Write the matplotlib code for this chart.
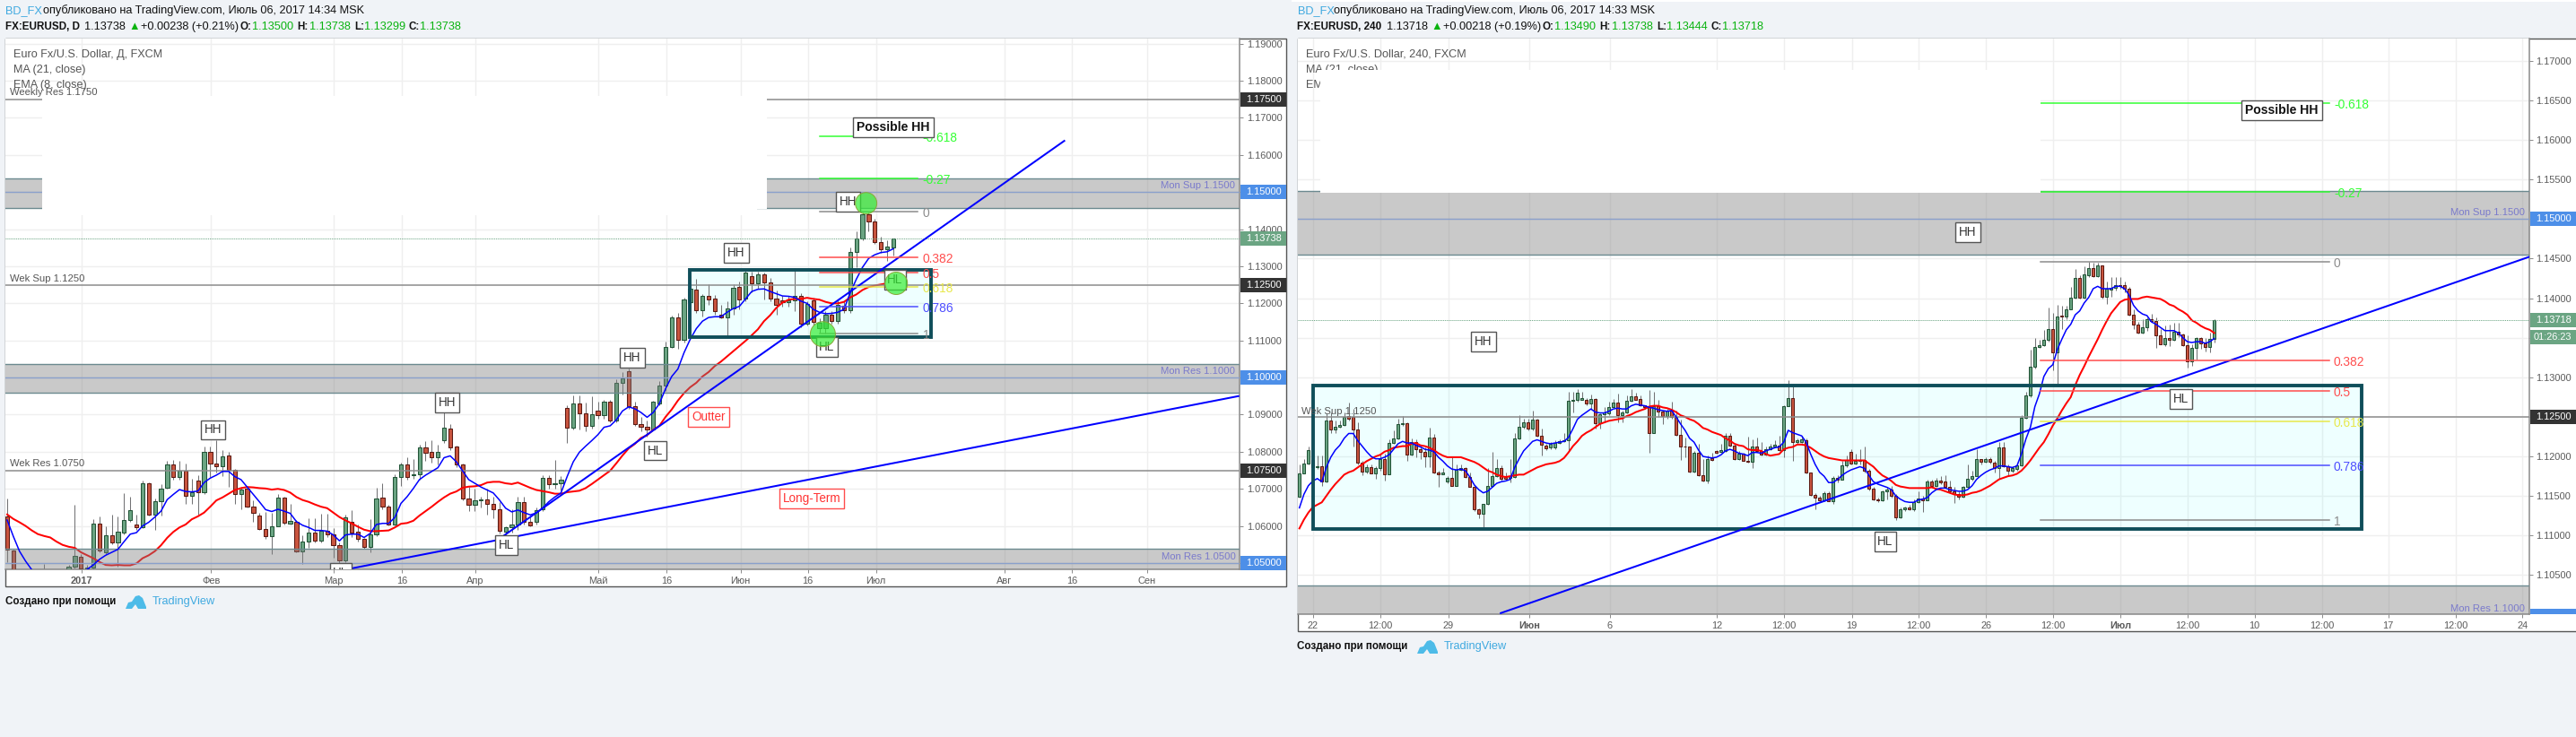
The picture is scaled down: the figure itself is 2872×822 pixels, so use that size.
import numpy as np
import matplotlib
matplotlib.use("Agg")
import matplotlib.pyplot as plt
from matplotlib.patches import Rectangle, Ellipse, Polygon
from matplotlib.transforms import Affine2D

W, H = 2872, 822
BG = "#f0f3f7"
GRID = "#efefef"
FONT = ["Liberation Sans", "DejaVu Sans"]
plt.rcParams["font.family"] = FONT
LABEL_PX = 11.2
TICK_PX = 11.0

# ---------- daily chart ----------
d_first_bar = -12
d_open = [1.0626,1.0534,1.0465,1.0440,1.0455,1.0445,1.0450,1.0465,1.0445,1.0455,1.0470,1.0491,
 1.0518,1.0477,1.0487,1.0607,1.0529,1.0574,1.0556,1.0581,1.0615,1.0605,
 1.0597,1.0715,1.0631,1.0666,1.0703,1.0765,1.0731,1.0748,1.0682,1.0723,
 1.0691,1.0799,1.0769,1.0760,1.0791,1.0751,1.0685,1.0701,1.0653,1.0627,
 1.0592,1.0572,1.0600,1.0677,1.0607,1.0612,1.0532,1.0559,1.0583,1.0561,
 1.0587,1.0578,1.0549,1.0507,1.0612,1.0584,1.0566,1.0544,1.0577,1.0677,
 1.0653,1.0604,1.0733,1.0765,1.0736,1.0740,1.0811,1.0799,1.0785,1.0832,
 1.0863,1.0814,1.0765,1.0674,1.0658,1.0668,1.0671,1.0660,1.0644,1.0585,
 1.0596,1.0604,1.0664,1.0612,1.0612,1.0644,1.0729,1.0712,1.0714,
 1.0918,1.0866,1.0930,1.0904,1.0870,1.0912,1.0899,1.0934,1.0885,1.0985,1.1017,
 1.0924,1.0875,1.0868,1.0861,1.0930,1.0978,1.1083,1.1161,1.1102,1.1204,
 1.1238,1.1181,1.1219,1.1212,1.1170,1.1162,1.1186,1.1244,1.1212,1.1273,
 1.1255,1.1277,1.1256,1.1214,1.1208,1.1204,1.1209,1.1219,1.1146,1.1207,
 1.1134,1.1134,1.1170,1.1153,1.1194,1.1182,1.1339,1.1376,1.1439,1.1420,1.1364,1.1347,1.1350]
d_high = [1.0673,1.0537,1.0475,1.0470,1.0470,1.0470,1.0498,1.0475,1.0470,1.0470,1.0495,1.0657,
 1.0525,1.0495,1.0619,1.0625,1.0600,1.0630,1.0625,1.0688,1.0680,1.0630,
 1.0722,1.0718,1.0675,1.0712,1.0775,1.0778,1.0775,1.0768,1.0727,1.0738,
 1.0815,1.0815,1.0830,1.0805,1.0800,1.0753,1.0705,1.0705,1.0670,1.0635,
 1.0638,1.0635,1.0685,1.0680,1.0660,1.0615,1.0575,1.0620,1.0622,1.0632,
 1.0632,1.0595,1.0555,1.0630,1.0642,1.0605,1.0568,1.0618,1.0702,1.0716,
 1.0658,1.0740,1.0770,1.0785,1.0780,1.0820,1.0829,1.0830,1.0820,1.0906,
 1.0875,1.0816,1.0768,1.0705,1.0700,1.0680,1.0700,1.0680,1.0665,1.0600,
 1.0645,1.0680,1.0680,1.0625,1.0650,1.0738,1.0738,1.0777,1.0735,
 1.0925,1.0953,1.0953,1.0933,1.0950,1.0935,1.0940,1.0940,1.0995,1.1015,1.1025,
 1.0935,1.0895,1.0885,1.0937,1.0990,1.1097,1.1167,1.1175,1.1215,1.1245,
 1.1265,1.1225,1.1252,1.1222,1.1195,1.1205,1.1252,1.1260,1.1287,1.1285,
 1.1285,1.1283,1.1268,1.1235,1.1220,1.1220,1.1296,1.1228,1.1205,1.1215,
 1.1160,1.1180,1.1178,1.1210,1.1205,1.1350,1.1395,1.1446,1.1445,1.1428,1.1380,1.1370,1.13738]
d_low = [1.0503,1.0470,1.0420,1.0430,1.0430,1.0430,1.0440,1.0430,1.0420,1.0440,1.0460,1.0486,
 1.0470,1.0470,1.0470,1.0530,1.0525,1.0550,1.0490,1.0578,1.0612,1.0590,
 1.0595,1.0628,1.0590,1.0627,1.0700,1.0725,1.0725,1.0660,1.0660,1.0630,
 1.0685,1.0731,1.0745,1.0735,1.0705,1.0660,1.0645,1.0650,1.0612,1.0590,
 1.0565,1.0525,1.0598,1.0605,1.0605,1.0528,1.0497,1.0540,1.0555,1.0555,
 1.0570,1.0515,1.0497,1.0502,1.0570,1.0558,1.0538,1.0530,1.0572,1.0645,
 1.0602,1.0602,1.0708,1.0725,1.0728,1.0725,1.0775,1.0770,1.0765,1.0825,
 1.0805,1.0758,1.0670,1.0640,1.0640,1.0650,1.0630,1.0620,1.0580,1.0555,
 1.0583,1.0590,1.0605,1.0600,1.0605,1.0640,1.0700,1.0700,1.0695,
 1.0823,1.0860,1.0860,1.0855,1.0862,1.0890,1.0890,1.0880,1.0880,1.0955,1.0915,
 1.0870,1.0855,1.0840,1.0857,1.0925,1.0965,1.1080,1.1077,1.1095,1.1200,
 1.1175,1.1165,1.1195,1.1170,1.1160,1.1110,1.1170,1.1185,1.1205,1.1230,
 1.1240,1.1210,1.1205,1.1170,1.1190,1.1190,1.1180,1.1135,1.1140,1.1140,
 1.1120,1.1118,1.1145,1.1145,1.1175,1.1175,1.1297,1.1370,1.1395,1.1360,1.1335,1.1315,1.13299]
d_close = [1.0536,1.0475,1.0440,1.0455,1.0445,1.0450,1.0465,1.0445,1.0455,1.0450,1.0491,1.0519,
 1.0486,1.0489,1.0607,1.0534,1.0574,1.0556,1.0584,1.0615,1.0642,1.0597,
 1.0715,1.0631,1.0666,1.0700,1.0765,1.0731,1.0748,1.0682,1.0692,1.0691,
 1.0799,1.0768,1.0760,1.0787,1.0751,1.0685,1.0699,1.0652,1.0636,1.0592,
 1.0572,1.0600,1.0677,1.0608,1.0613,1.0532,1.0559,1.0583,1.0561,1.0586,
 1.0578,1.0549,1.0507,1.0624,1.0582,1.0566,1.0544,1.0577,1.0673,1.0653,
 1.0604,1.0733,1.0765,1.0733,1.0740,1.0811,1.0798,1.0785,1.0799,1.0864,
 1.0812,1.0765,1.0673,1.0656,1.0669,1.0672,1.0660,1.0644,1.0588,1.0596,
 1.0604,1.0664,1.0612,1.0602,1.0642,1.0730,1.0712,1.0714,1.0725,
 1.0866,1.0930,1.0904,1.0870,1.0900,1.0899,1.0934,1.0885,1.0985,1.0998,1.0924,
 1.0875,1.0867,1.0861,1.0934,1.0978,1.1083,1.1161,1.1102,1.1210,1.1239,
 1.1181,1.1220,1.1211,1.1178,1.1162,1.1186,1.1243,1.1210,1.1282,1.1255,
 1.1277,1.1257,1.1214,1.1196,1.1204,1.1209,1.1219,1.1146,1.1198,1.1149,
 1.1147,1.1170,1.1153,1.1196,1.1182,1.1339,1.1376,1.1439,1.1420,1.1364,1.1345,1.1352,1.13738]
d_ema = [1.0616,1.0572,1.0532,1.0505,1.0482,1.0465,1.0455,1.0450,1.0450,1.0452,1.0458,1.0465,
 1.0475,1.0483,1.0495,1.0510,1.0521,1.0529,1.0537,1.0558,1.0578,1.0582,
 1.0600,1.0610,1.0624,1.0640,1.0671,1.0685,1.0698,1.0693,1.0692,1.0694,
 1.0717,1.0729,1.0737,1.0747,1.0747,1.0733,1.0725,1.0705,1.0685,1.0665,
 1.0644,1.0639,1.0645,1.0640,1.0634,1.0612,1.0602,1.0596,1.0588,1.0588,
 1.0586,1.0576,1.0560,1.0576,1.0578,1.0578,1.0569,1.0580,1.0604,1.0607,
 1.0607,1.0623,1.0661,1.0679,1.0701,1.0725,1.0737,1.0747,1.0757,1.0784,
 1.0789,1.0773,1.0749,1.0725,1.0715,1.0705,1.0697,1.0689,1.0670,1.0648,
 1.0638,1.0643,1.0636,1.0630,1.0635,1.0648,1.0665,1.0678,1.0689,
 1.0733,1.0773,1.0799,1.0815,1.0830,1.0846,1.0866,1.0870,1.0886,1.0910,1.0921,
 1.0916,1.0906,1.0893,1.0906,1.0930,1.0970,1.1003,1.1023,1.1067,1.1103,
 1.1132,1.1152,1.1162,1.1164,1.1164,1.1176,1.1186,1.1192,1.1212,1.1232,
 1.1238,1.1239,1.1232,1.1226,1.1220,1.1219,1.1216,1.1206,1.1200,1.1184,
 1.1176,1.1172,1.1173,1.1176,1.1184,1.1228,1.1265,1.1297,1.1321,1.1331,1.1337,1.1339,1.1347]
d_ma = [1.0631,1.0619,1.0610,1.0600,1.0588,1.0578,1.0573,1.0569,1.0558,1.0549,1.0544,1.0541,
 1.0529,1.0521,1.0513,1.0503,1.0495,1.0494,1.0495,1.0494,1.0494,1.0499,
 1.0513,1.0521,1.0532,1.0548,1.0568,1.0584,1.0596,1.0604,1.0618,1.0626,
 1.0636,1.0652,1.0669,1.0677,1.0687,1.0697,1.0702,1.0705,1.0704,1.0702,
 1.0701,1.0698,1.0700,1.0697,1.0690,1.0678,1.0670,1.0665,1.0658,1.0652,
 1.0648,1.0636,1.0624,1.0615,1.0607,1.0598,1.0590,1.0586,1.0586,1.0587,
 1.0588,1.0596,1.0606,1.0608,1.0614,1.0628,1.0640,1.0652,1.0665,1.0677,
 1.0687,1.0693,1.0703,1.0706,1.0707,1.0710,1.0717,1.0719,1.0719,1.0715,
 1.0713,1.0717,1.0710,1.0703,1.0697,1.0694,1.0691,1.0687,1.0687,
 1.0691,1.0693,1.0695,1.0702,1.0713,1.0725,1.0737,1.0749,1.0769,1.0790,1.0809,
 1.0821,1.0837,1.0845,1.0859,1.0870,1.0894,1.0914,1.0938,1.0958,1.0974,
 1.0986,1.1003,1.1015,1.1031,1.1043,1.1057,1.1071,1.1085,1.1099,1.1114,
 1.1130,1.1152,1.1168,1.1188,1.1202,1.1210,1.1212,1.1212,1.1215,1.1212,
 1.1210,1.1204,1.1200,1.1200,1.1204,1.1216,1.1224,1.1236,1.1244,1.1248,1.1251,1.1254,1.1265]
d_tick_pos = [0.1,21.1,41.1,52.2,64.1,84.1,95.2,107.2,118.1,129.2,150.1,161.0,173.2]
d_tick_labels = ["2017","Фев","Мар","16","Апр","Май","16","Июн","16","Июл","Авг","16","Сен"]
d_bold_ticks = ["2017"]
d_price_ticks = [1.05,1.06,1.07,1.08,1.09,1.10,1.11,1.12,1.13,1.14,1.15,1.16,1.17,1.18,1.19]
d_tagged_prices = [1.05,1.10,1.15]
d_fib_levels = [-0.618,-0.27,0,0.382,0.5,0.618,0.786,1]
d_fib_prices = [1.1650,1.1536,1.1447,1.1323,1.1284,1.1245,1.1190,1.1119]
d_fib_span = [120.0,136.0]
d_zones = [(1.1456,1.1536),(1.0958,1.1037),(1.0400,1.0539)]
d_box = (99.0,1.1109,138.2,1.1291)
d_long_term = ([44.06,188.1],[1.0486,1.0950])
d_outer = ([68.8,159.8],[1.0575,1.1638])

# ---------- 240-minute chart ----------
h_open = [1.1149,1.1179,1.1191,1.1195,1.1186,1.1188,1.1168,1.1245,1.1234,1.1237,
 1.1240,1.1251,1.1250,1.1234,1.1192,1.1181,1.1186,1.1179,1.1185,1.1197,
 1.1177,1.1217,1.1223,1.1241,1.1242,1.1202,1.1218,1.1209,1.1206,1.1200,
 1.1224,1.1180,1.1177,1.1168,1.1173,1.1163,1.1183,1.1185,1.1174,1.1162,
 1.1133,1.1127,1.1140,1.1163,1.1175,1.1185,1.1174,1.1173,1.1174,1.1223,
 1.1237,1.1243,1.1235,1.1247,1.1226,1.1214,1.1211,1.1211,1.1217,1.1219,
 1.1221,1.1270,1.1271,1.1272,1.1272,1.1267,1.1273,1.1242,1.1253,1.1255,
 1.1262,1.1268,1.1252,1.1256,1.1270,1.1276,1.1273,1.1265,1.1262,1.1230,
 1.1264,1.1257,1.1251,1.1258,1.1250,1.1227,1.1213,1.1213,1.1181,1.1205,
 1.1176,1.1169,1.1198,1.1207,1.1206,1.1207,1.1226,1.1214,1.1197,1.1203,
 1.1194,1.1193,1.1213,1.1207,1.1202,1.1209,1.1213,1.1214,1.1208,1.1263,
 1.1274,1.1218,1.1218,1.1221,1.1180,1.1151,1.1148,1.1145,1.1154,1.1143,
 1.1173,1.1171,1.1189,1.1206,1.1191,1.1194,1.1195,1.1182,1.1159,1.1146,
 1.1144,1.1156,1.1158,1.1150,1.1123,1.1133,1.1135,1.1133,1.1142,1.1147,
 1.1145,1.1168,1.1163,1.1170,1.1168,1.1161,1.1156,1.1152,1.1149,1.1161,
 1.1172,1.1175,1.1197,1.1193,1.1197,1.1192,1.1185,1.1211,1.1188,1.1182,
 1.1184,1.1189,1.1249,1.1277,1.1313,1.1338,1.1341,1.1347,1.1361,1.1331,
 1.1378,1.1377,1.1386,1.1401,1.1426,1.1401,1.1429,1.1438,1.1428,1.1441,
 1.1402,1.1411,1.1413,1.1417,1.1417,1.1412,1.1379,1.1367,1.1357,1.1363,
 1.1374,1.1371,1.1353,1.1342,1.1350,1.1347,1.1358,1.1354,1.1341,1.1320,
 1.1337,1.1350,1.1343,1.1338,1.13490]
h_high = [1.1190,1.1197,1.1213,1.1201,1.1201,1.1201,1.1254,1.1256,1.1245,1.1245,
 1.1256,1.1268,1.1260,1.1243,1.1194,1.1190,1.1190,1.1188,1.1203,1.1203,
 1.1222,1.1233,1.1248,1.1251,1.1243,1.1223,1.1222,1.1213,1.1211,1.1236,
 1.1228,1.1182,1.1185,1.1175,1.1200,1.1190,1.1190,1.1186,1.1180,1.1163,
 1.1134,1.1140,1.1185,1.1206,1.1197,1.1189,1.1180,1.1197,1.1229,1.1252,
 1.1248,1.1248,1.1258,1.1248,1.1235,1.1216,1.1218,1.1221,1.1222,1.1229,
 1.1282,1.1282,1.1285,1.1282,1.1274,1.1278,1.1274,1.1254,1.1262,1.1269,
 1.1273,1.1279,1.1258,1.1277,1.1285,1.1281,1.1277,1.1265,1.1284,1.1282,
 1.1271,1.1258,1.1260,1.1269,1.1258,1.1247,1.1224,1.1213,1.1207,1.1216,
 1.1197,1.1201,1.1205,1.1208,1.1216,1.1230,1.1230,1.1216,1.1207,1.1205,
 1.1225,1.1222,1.1224,1.1218,1.1212,1.1216,1.1220,1.1226,1.1265,1.1296,
 1.1288,1.1223,1.1226,1.1223,1.1180,1.1154,1.1150,1.1156,1.1156,1.1175,
 1.1176,1.1194,1.1201,1.1209,1.1203,1.1209,1.1213,1.1184,1.1161,1.1148,
 1.1157,1.1161,1.1163,1.1152,1.1135,1.1137,1.1139,1.1146,1.1156,1.1150,
 1.1171,1.1171,1.1173,1.1175,1.1176,1.1169,1.1161,1.1156,1.1163,1.1190,
 1.1182,1.1209,1.1197,1.1199,1.1199,1.1194,1.1218,1.1218,1.1190,1.1188,
 1.1192,1.1252,1.1282,1.1335,1.1350,1.1347,1.1360,1.1388,1.1381,1.1392,
 1.1391,1.1391,1.1414,1.1437,1.1429,1.1440,1.1446,1.1445,1.1445,1.1442,
 1.1421,1.1427,1.1427,1.1427,1.1421,1.1414,1.1386,1.1370,1.1374,1.1376,
 1.1380,1.1376,1.1361,1.1365,1.1367,1.1369,1.1369,1.1355,1.1353,1.1342,
 1.1351,1.1351,1.1350,1.1357,1.13738]
h_low = [1.1148,1.1178,1.1190,1.1178,1.1184,1.1163,1.1167,1.1229,1.1229,1.1236,
 1.1239,1.1245,1.1213,1.1190,1.1176,1.1178,1.1178,1.1172,1.1182,1.1169,
 1.1177,1.1216,1.1222,1.1239,1.1194,1.1201,1.1199,1.1197,1.1186,1.1186,
 1.1179,1.1161,1.1177,1.1166,1.1163,1.1163,1.1182,1.1173,1.1161,1.1131,
 1.1122,1.1110,1.1139,1.1161,1.1174,1.1170,1.1171,1.1167,1.1173,1.1222,
 1.1235,1.1233,1.1233,1.1225,1.1201,1.1208,1.1209,1.1209,1.1216,1.1218,
 1.1207,1.1256,1.1269,1.1271,1.1265,1.1260,1.1235,1.1235,1.1243,1.1252,
 1.1262,1.1243,1.1243,1.1254,1.1269,1.1272,1.1263,1.1260,1.1205,1.1229,
 1.1250,1.1241,1.1248,1.1248,1.1226,1.1196,1.1199,1.1180,1.1180,1.1175,
 1.1168,1.1166,1.1194,1.1204,1.1205,1.1206,1.1213,1.1195,1.1195,1.1194,
 1.1192,1.1185,1.1207,1.1201,1.1201,1.1208,1.1211,1.1207,1.1199,1.1263,
 1.1194,1.1216,1.1217,1.1178,1.1150,1.1133,1.1143,1.1143,1.1143,1.1140,
 1.1167,1.1171,1.1187,1.1190,1.1190,1.1190,1.1180,1.1157,1.1144,1.1142,
 1.1143,1.1146,1.1148,1.1120,1.1122,1.1131,1.1132,1.1131,1.1141,1.1130,
 1.1144,1.1161,1.1161,1.1165,1.1160,1.1154,1.1141,1.1146,1.1148,1.1160,
 1.1169,1.1175,1.1190,1.1192,1.1191,1.1180,1.1172,1.1187,1.1176,1.1180,
 1.1182,1.1188,1.1248,1.1275,1.1311,1.1337,1.1339,1.1345,1.1309,1.1292,
 1.1361,1.1374,1.1386,1.1399,1.1400,1.1400,1.1427,1.1427,1.1427,1.1399,
 1.1393,1.1402,1.1410,1.1412,1.1408,1.1378,1.1361,1.1355,1.1355,1.1359,
 1.1370,1.1337,1.1342,1.1340,1.1340,1.1346,1.1351,1.1340,1.1312,1.1314,
 1.1323,1.1336,1.1333,1.1331,1.13444]
h_close = [1.1179,1.1191,1.1208,1.1186,1.1188,1.1168,1.1245,1.1234,1.1237,1.1240,
 1.1250,1.1248,1.1234,1.1192,1.1181,1.1186,1.1179,1.1185,1.1197,1.1177,
 1.1217,1.1223,1.1241,1.1242,1.1202,1.1218,1.1209,1.1206,1.1200,1.1224,
 1.1180,1.1177,1.1180,1.1173,1.1163,1.1183,1.1185,1.1174,1.1162,1.1133,
 1.1127,1.1140,1.1163,1.1175,1.1185,1.1172,1.1172,1.1175,1.1223,1.1237,
 1.1243,1.1235,1.1247,1.1226,1.1215,1.1210,1.1216,1.1217,1.1219,1.1221,
 1.1270,1.1271,1.1281,1.1274,1.1267,1.1273,1.1242,1.1253,1.1256,1.1262,
 1.1268,1.1252,1.1256,1.1270,1.1276,1.1272,1.1265,1.1262,1.1230,1.1264,
 1.1257,1.1251,1.1258,1.1250,1.1227,1.1212,1.1212,1.1181,1.1205,1.1176,
 1.1169,1.1197,1.1195,1.1205,1.1208,1.1226,1.1214,1.1197,1.1203,1.1194,
 1.1193,1.1213,1.1207,1.1202,1.1209,1.1213,1.1215,1.1208,1.1263,1.1274,
 1.1218,1.1220,1.1222,1.1180,1.1151,1.1148,1.1145,1.1154,1.1143,1.1173,
 1.1171,1.1189,1.1195,1.1191,1.1194,1.1195,1.1182,1.1159,1.1146,1.1144,
 1.1156,1.1158,1.1150,1.1123,1.1133,1.1135,1.1133,1.1142,1.1147,1.1145,
 1.1168,1.1163,1.1170,1.1167,1.1161,1.1156,1.1152,1.1149,1.1161,1.1172,
 1.1175,1.1197,1.1193,1.1197,1.1193,1.1185,1.1211,1.1188,1.1182,1.1185,
 1.1189,1.1249,1.1277,1.1313,1.1338,1.1341,1.1347,1.1361,1.1331,1.1377,
 1.1377,1.1386,1.1401,1.1426,1.1401,1.1430,1.1438,1.1428,1.1441,1.1402,
 1.1412,1.1413,1.1417,1.1415,1.1412,1.1379,1.1367,1.1357,1.1363,1.1374,
 1.1371,1.1353,1.1342,1.1350,1.1347,1.1358,1.1354,1.1341,1.1320,1.1337,
 1.1350,1.1343,1.1338,1.1349,1.13718]
h_ema = [1.1135,1.1152,1.1163,1.1169,1.1172,1.1168,1.1186,1.1199,1.1208,1.1214,
 1.1223,1.1229,1.1229,1.1220,1.1213,1.1206,1.1200,1.1197,1.1197,1.1199,
 1.1202,1.1209,1.1216,1.1219,1.1217,1.1217,1.1214,1.1212,1.1209,1.1208,
 1.1206,1.1199,1.1194,1.1188,1.1184,1.1183,1.1184,1.1182,1.1174,1.1164,
 1.1158,1.1154,1.1156,1.1161,1.1166,1.1168,1.1169,1.1171,1.1186,1.1197,
 1.1207,1.1213,1.1219,1.1221,1.1219,1.1217,1.1216,1.1217,1.1218,1.1219,
 1.1224,1.1235,1.1247,1.1252,1.1256,1.1260,1.1256,1.1255,1.1255,1.1257,
 1.1260,1.1261,1.1260,1.1260,1.1264,1.1266,1.1265,1.1264,1.1262,1.1261,
 1.1259,1.1258,1.1257,1.1258,1.1250,1.1241,1.1233,1.1223,1.1218,1.1208,
 1.1200,1.1199,1.1198,1.1199,1.1202,1.1207,1.1209,1.1207,1.1204,1.1203,
 1.1201,1.1205,1.1205,1.1204,1.1207,1.1209,1.1211,1.1212,1.1218,1.1233,
 1.1230,1.1228,1.1226,1.1218,1.1203,1.1190,1.1180,1.1175,1.1167,1.1167,
 1.1171,1.1176,1.1180,1.1183,1.1185,1.1187,1.1185,1.1176,1.1168,1.1165,
 1.1163,1.1161,1.1158,1.1150,1.1146,1.1143,1.1142,1.1142,1.1145,1.1146,
 1.1148,1.1154,1.1158,1.1160,1.1160,1.1158,1.1157,1.1156,1.1156,1.1158,
 1.1163,1.1171,1.1176,1.1180,1.1183,1.1185,1.1188,1.1188,1.1187,1.1186,
 1.1188,1.1203,1.1222,1.1237,1.1263,1.1279,1.1301,1.1311,1.1316,1.1335,
 1.1348,1.1360,1.1367,1.1379,1.1384,1.1394,1.1401,1.1412,1.1415,1.1412,
 1.1412,1.1412,1.1415,1.1415,1.1412,1.1404,1.1391,1.1384,1.1380,1.1378,
 1.1370,1.1367,1.1363,1.1359,1.1359,1.1359,1.1356,1.1350,1.1345,1.1344,
 1.1345,1.1345,1.1343,1.1345,1.1349]
h_ma = [1.1109,1.1120,1.1129,1.1136,1.1139,1.1142,1.1150,1.1158,1.1165,1.1171,
 1.1177,1.1180,1.1182,1.1186,1.1190,1.1194,1.1197,1.1200,1.1202,1.1206,
 1.1208,1.1211,1.1212,1.1213,1.1213,1.1216,1.1217,1.1214,1.1213,1.1211,
 1.1208,1.1204,1.1201,1.1199,1.1199,1.1199,1.1199,1.1197,1.1195,1.1193,
 1.1190,1.1186,1.1182,1.1180,1.1177,1.1175,1.1174,1.1175,1.1176,1.1177,
 1.1177,1.1180,1.1183,1.1186,1.1188,1.1190,1.1191,1.1192,1.1194,1.1198,
 1.1205,1.1213,1.1219,1.1226,1.1230,1.1233,1.1237,1.1241,1.1243,1.1245,
 1.1246,1.1247,1.1248,1.1251,1.1253,1.1256,1.1258,1.1260,1.1263,1.1264,
 1.1264,1.1262,1.1261,1.1259,1.1256,1.1252,1.1250,1.1247,1.1245,1.1241,
 1.1236,1.1234,1.1231,1.1229,1.1227,1.1223,1.1220,1.1216,1.1214,1.1213,
 1.1209,1.1208,1.1208,1.1207,1.1203,1.1201,1.1202,1.1203,1.1209,1.1211,
 1.1212,1.1215,1.1215,1.1214,1.1211,1.1207,1.1203,1.1200,1.1198,1.1197,
 1.1196,1.1195,1.1195,1.1195,1.1195,1.1195,1.1195,1.1191,1.1187,1.1181,
 1.1176,1.1173,1.1169,1.1164,1.1162,1.1161,1.1160,1.1160,1.1160,1.1160,
 1.1160,1.1161,1.1159,1.1158,1.1156,1.1154,1.1152,1.1151,1.1151,1.1152,
 1.1154,1.1155,1.1157,1.1160,1.1163,1.1167,1.1171,1.1173,1.1175,1.1176,
 1.1178,1.1182,1.1188,1.1195,1.1203,1.1211,1.1218,1.1228,1.1239,1.1248,
 1.1258,1.1267,1.1275,1.1290,1.1303,1.1314,1.1326,1.1337,1.1348,1.1360,
 1.1371,1.1381,1.1388,1.1395,1.1398,1.1399,1.1399,1.1399,1.1401,1.1402,
 1.1401,1.1400,1.1399,1.1396,1.1392,1.1390,1.1386,1.1383,1.1379,1.1372,
 1.1369,1.1365,1.1362,1.1360,1.1356]
h_tick_pos = [2.96,18.1,33.2,51.2,69.2,93.1,108.1,123.2,138.1,153.1,168.1,183.1,198.0,213.0,228.0,242.8,257.8,272.7]
h_tick_labels = ["22","12:00","29","Июн","6","12","12:00","19","12:00","26","12:00","Июл","12:00","10","12:00","17","12:00","24"]
h_bold_ticks = ["Июн","Июл"]
h_price_ticks = [1.105,1.11,1.115,1.12,1.125,1.13,1.135,1.14,1.145,1.15,1.155,1.16,1.165,1.17]
h_tagged_prices = [1.125,1.135,1.15]
h_fib_levels = [-0.618,-0.27,0,0.382,0.5,0.618,0.786,1]
h_fib_prices = [1.1647,1.1534,1.1446,1.1321,1.1283,1.1244,1.1189,1.1120]
h_fib_span = [165.3,229.7]
h_zones = [(1.1455,1.1535),(1.0990,1.1037)]
h_box = (2.96,1.1108,236.9,1.1290)
h_trend = ([44.9,274.1],[1.1002,1.1452])

fig = plt.figure(figsize=(W/100,H/100),dpi=100,facecolor=BG)
PIX = Affine2D().scale(1,-1).translate(0,H)   # image pixels, y downwards


def px(n):
    return n*0.72


def pix_rect(x0,y0,x1,y1,**kw):
    return Rectangle((x0,y0),x1-x0,y1-y0,transform=PIX,**kw)


def make_axes(x0,y0,x1,y1,xlim,ylim):
    ax = fig.add_axes([x0/W,1-y1/H,(x1-x0)/W,(y1-y0)/H],facecolor="white")
    ax.set_xlim(*xlim); ax.set_ylim(*ylim)
    for s in ("top","left"):
        ax.spines[s].set_visible(False)
    for s in ("right","bottom"):
        ax.spines[s].set_color("#8a8a8a"); ax.spines[s].set_linewidth(1.1)
    ax.yaxis.tick_right()
    ax.tick_params(axis="both",length=3,width=0.7,color="#8a8a8a",labelcolor="#5a5a5a",
                   labelsize=px(TICK_PX),pad=2.5)
    return ax


def candles(ax,first,o,h,l,c,width,ma,ema):
    xs = first+np.arange(len(o))
    o,h,l,c = map(np.array,(o,h,l,c))
    up = c>=o
    ax.vlines(xs,l,h,color="#737375",lw=0.75,zorder=2)
    ax.bar(xs[up],(c-o)[up],bottom=o[up],width=width,color="#6ba583",edgecolor="#225437",lw=0.75,zorder=3)
    ax.bar(xs[~up],(c-o)[~up],bottom=o[~up],width=width,color="#c9553f",edgecolor="#5b1a13",lw=0.75,zorder=3)
    ax.plot(first+np.arange(len(ma)),ma,color="#ff0000",lw=1.45,zorder=4)
    ax.plot(first+np.arange(len(ema)),ema,color="#0000ff",lw=1.1,zorder=6)


def zone(ax,lo,hi):
    ax.axhspan(lo,hi,facecolor="#808080",alpha=0.42,lw=0,zorder=5)
    for p in (lo,hi):
        ax.axhline(p,color="#6c8a90",lw=1.0,zorder=5)


def tag(ax,price,text,color,x0,x1,tc="white"):
    yd = ax.transData.transform((0,price))[1]
    yc = H-yd
    ax.add_patch(pix_rect(x0,yc-8,x1,yc+8,facecolor=color,edgecolor="none",clip_on=False,zorder=10))
    ax.text((x0+x1)/2+1,yc,text,transform=PIX,color=tc,ha="center",va="center",
            fontsize=px(TICK_PX),clip_on=False,zorder=11)


def note(ax,x,y,s,ec="#555555",c="#333333",fs=13.5,weight="normal",z=13,fc="white"):
    ax.text(x,y,s,transform=PIX,ha="center",va="center",color=c,fontsize=px(fs),fontweight=weight,
            clip_on=True,zorder=z,
            bbox=dict(boxstyle="square,pad=0.28",fc=fc,ec=ec,lw=1.0))


def fib(ax,span,levels,prices,lab_x):
    colors = {-0.618:"#33ff33",-0.27:"#33ff33",0:"#8c8c8c",0.382:"#ff4d4d",0.5:"#ff4d4d",
              0.618:"#e8e84a",0.786:"#4d4dff",1:"#8c8c8c"}
    for lv,pr in zip(levels,prices):
        ax.plot(span,[pr,pr],color=colors[lv],lw=1.1,zorder=7)
        yc = H-ax.transData.transform((0,pr))[1]
        ax.text(lab_x,yc+2,f"{lv:g}",transform=PIX,color=colors[lv],fontsize=px(13.8),va="center",zorder=8,
                clip_on=True)


def decorate(ax,ticks,labels,bold,prices,tagged):
    ax.set_xticks(ticks); ax.set_xticklabels(labels)
    for t,l in zip(ax.get_xticklabels(),labels):
        if l in bold:
            t.set_fontweight("bold")
    ax.set_yticks(prices)
    ax.set_yticklabels(["" if p in tagged else f"{p:.5f}" for p in prices])
    ax.grid(True,color=GRID,lw=1.0,zorder=0)
    ax.set_axisbelow(True)


def logo(x0,y0):
    fig.add_artist(Polygon([(x0,y0+15),(x0+3,y0+8),(x0+7,y0+7),(x0+11,y0+1),(x0+15,y0),(x0+19,y0+3),
                            (x0+21,y0+8),(x0+23,y0+13),(x0+23,y0+15),(x0+14,y0+15),(x0+11,y0+10),(x0+7,y0+15)],
                           transform=PIX,facecolor="#4dbbe8",edgecolor="none"))


def header(items,y):
    for x,s,c,w in items:
        size = 11.6 if w == "bold" else 12.75
        fig.text(x,y,s,transform=PIX,color=c,fontweight=w,fontsize=px(size),va="center")


fig.add_artist(pix_rect(6.4,43.3,1434,654.3,facecolor="white",edgecolor="#555555",lw=1.0,zorder=-2))
fig.add_artist(pix_rect(1446.5,43.3,2880,704,facecolor="white",edgecolor="#555555",lw=1.0,zorder=-2))
fig.add_artist(pix_rect(1440,0,2872,2,facecolor="white",edgecolor="none",zorder=-2))

# ---------- daily panel ----------
a = make_axes(6.4,43.3,1382.5,635.3,(-12.235,188.36),(1.04824,1.1913))
decorate(a,d_tick_pos,d_tick_labels,d_bold_ticks,d_price_ticks,d_tagged_prices)
candles(a,d_first_bar,d_open,d_high,d_low,d_close,0.62,d_ma,d_ema)
for lo,hi in d_zones:
    zone(a,lo,hi)
for lvl in (1.175,1.125,1.075):
    a.axhline(lvl,color="#8c8c8c",lw=1.1,zorder=5)
for lvl in (1.15,1.10,1.05):
    a.axhline(lvl,color="#8aa0cc",lw=1.0,zorder=5)
a.axhline(1.13738,color="#6ba583",lw=0.7,ls=(0,(1,1)),zorder=5)
bx0,by0,bx1,by1 = d_box
a.add_patch(Rectangle((bx0,by0),bx1-bx0,by1-by0,facecolor=(0,1,1,0.065),edgecolor="none",zorder=1.5))
a.add_patch(Rectangle((bx0,by0),bx1-bx0,by1-by0,facecolor="none",edgecolor="#0f4e5a",lw=2.8,zorder=7))
a.plot(*d_long_term,color="#0000ff",lw=1.45,zorder=7)
a.plot(*d_outer,color="#0000ff",lw=1.45,zorder=7)
fib(a,d_fib_span,d_fib_levels,d_fib_prices,1028.5)
for t,y in (("Euro Fx/U.S. Dollar, Д, FXCM",60.7),("MA (21, close)",77.7),("EMA (8, close)",95)):
    a.text(15,y,t,transform=PIX,color="#555555",fontsize=px(12.6),va="center",zorder=7)
a.add_patch(pix_rect(47,106.7,855,233,facecolor="white",edgecolor="none",zorder=8))
a.add_patch(pix_rect(47,233,844,240,facecolor="white",edgecolor="none",zorder=8))
for x,y,t in ((11,103,"Weekly Res 1.1750"),(11,311,"Wek Sup 1.1250"),(11,516.7,"Wek Res 1.0750")):
    a.text(x,y,t,transform=PIX,color="#555555",fontsize=px(LABEL_PX),va="center",zorder=9)
for y,t in ((206.7,"Mon Sup 1.1500"),(413.7,"Mon Res 1.1000"),(620.7,"Mon Res 1.0500")):
    a.text(1377.5,y,t,transform=PIX,color="#7a7acc",fontsize=px(LABEL_PX),ha="right",va="center",zorder=9)
for x,y,t in ((237.8,479.3,"HH"),(498.6,449,"HH"),(564.7,608,"HL"),(380,638.5,"HL"),(705,399,"HH"),
              (730.3,502.7,"HL"),(821,282,"HH"),(945.4,225,"HH"),(922,387,"HL"),(998,312,"HL")):
    note(a,x,y,t)
note(a,790,465,"Outter",ec="#ff4d4d",c="#ff3333")
note(a,905,556,"Long-Term",ec="#ff4d4d",c="#ff3333")
note(a,996,142,"Possible HH",ec="#555555",c="#111111",fs=14,weight="bold")
for x,y,r in ((965.6,226.7,12),(917.4,372.7,14),(999.2,316,12.5)):
    a.add_patch(Ellipse((x,y),2*r,2*r,transform=PIX,facecolor=(0.2,0.93,0.2,0.7),edgecolor="#8aa838",lw=0.7,zorder=14))
fig.canvas.draw()
for p,t,c in ((1.175,"1.17500","#333333"),(1.125,"1.12500","#333333"),(1.075,"1.07500","#333333"),
              (1.15,"1.15000","#4d8fe8"),(1.10,"1.10000","#4d8fe8"),(1.05,"1.05000","#4d8fe8"),
              (1.13738,"1.13738","#6ba583")):
    tag(a,p,t,c,1383,1433.5)

# ---------- 240-minute panel ----------
b = make_axes(1446.5,43.3,2820,685.3,(-0.44,274.26),(1.10003,1.17278))
decorate(b,h_tick_pos,h_tick_labels,h_bold_ticks,h_price_ticks,h_tagged_prices)
candles(b,0,h_open,h_high,h_low,h_close,0.68,h_ma,h_ema)
for lo,hi in h_zones:
    zone(b,lo,hi)
b.axhline(1.125,color="#8c8c8c",lw=1.1,zorder=5)
b.axhline(1.15,color="#8aa0cc",lw=1.0,zorder=5)
b.axhline(1.10,color="#8aa0cc",lw=1.0,zorder=5)
b.axhline(1.13718,color="#6ba583",lw=0.7,ls=(0,(1,1)),zorder=5)
bx0,by0,bx1,by1 = h_box
b.add_patch(Rectangle((bx0,by0),bx1-bx0,by1-by0,facecolor=(0,1,1,0.065),edgecolor="none",zorder=1.5))
b.add_patch(Rectangle((bx0,by0),bx1-bx0,by1-by0,facecolor="none",edgecolor="#0f4e5a",lw=2.8,zorder=7))
b.plot(*h_trend,color="#0000ff",lw=1.45,zorder=7)
fib(b,h_fib_span,h_fib_levels,h_fib_prices,2602)
for t,y in (("Euro Fx/U.S. Dollar, 240, FXCM",60.7),("MA (21, close)",77.7),("EMA (8, close)",95)):
    b.text(1455.5,y,t,transform=PIX,color="#555555",fontsize=px(12.6),va="center",zorder=7)
b.add_patch(pix_rect(1471.8,78,2275,215,facecolor="white",edgecolor="none",zorder=8))
b.text(1451,458.7,"Wek Sup 1.1250",transform=PIX,color="#555555",fontsize=px(LABEL_PX),va="center",zorder=9)
for y,t in ((237,"Mon Sup 1.1500"),(679.3,"Mon Res 1.1000")):
    b.text(2815,y,t,transform=PIX,color="#7a7acc",fontsize=px(LABEL_PX),ha="right",va="center",zorder=9)
for x,y,t in ((1654,381,"HH"),(2194,259,"HH"),(2102,604,"HL"),(2431.5,445,"HL")):
    note(b,x,y,t)
note(b,2544,123,"Possible HH",ec="#555555",c="#111111",fs=14,weight="bold")
fig.canvas.draw()
for p,t,c in ((1.15,"1.15000","#4d8fe8"),(1.125,"1.12500","#333333"),(1.13718,"1.13718","#6ba583")):
    tag(b,p,t,c,2820.5,2872)
b.add_patch(pix_rect(2820.5,368,2872,383.5,facecolor="#6ba583",edgecolor="none",clip_on=False,zorder=10))
b.text(2846,375.7,"01:26:23",transform=PIX,color="white",ha="center",va="center",fontsize=px(TICK_PX),clip_on=False,zorder=11)
b.add_patch(pix_rect(2820.5,679,2872,685,facecolor="#4d8fe8",edgecolor="none",clip_on=False,zorder=10))

# ---------- captions ----------
BLUE,GREEN,BLK = "#3fa9e0","#09b30f","#111111"
header([(6.4,"BD_FX",BLUE,"normal"),(47.8,"опубликовано на TradingView.com, Июль 06, 2017 14:34 MSK",BLK,"normal")],11.7)
header([(6.4,"FX:EURUSD, D",BLK,"bold"),(94,"1.13738",BLK,"normal"),(143,"▲",GREEN,"normal"),(157,"+0.00238 (+0.21%)",BLK,"normal"),
        (267,"O:",BLK,"bold"),(281,"1.13500",GREEN,"normal"),(331.5,"H:",BLK,"bold"),(345,"1.13738",GREEN,"normal"),
        (395,"L:",BLK,"bold"),(406,"1.13299",GREEN,"normal"),(456,"C:",BLK,"bold"),(468,"1.13738",GREEN,"normal")],29.7)
header([(1446.5,"BD_FX",BLUE,"normal"),(1487,"опубликовано на TradingView.com, Июль 06, 2017 14:33 MSK",BLK,"normal")],11.7)
header([(1446.5,"FX:EURUSD, 240",BLK,"bold"),(1546,"1.13718",BLK,"normal"),(1595,"▲",GREEN,"normal"),(1609,"+0.00218 (+0.19%)",BLK,"normal"),
        (1719,"O:",BLK,"bold"),(1733,"1.13490",GREEN,"normal"),(1783.5,"H:",BLK,"bold"),(1797,"1.13738",GREEN,"normal"),
        (1847,"L:",BLK,"bold"),(1858.4,"1.13444",GREEN,"normal"),(1908,"C:",BLK,"bold"),(1920,"1.13718",GREEN,"normal")],29.7)
header([(6.4,"Создано при помощи",BLK,"bold"),(170,"TradingView",BLUE,"normal")],670.7)
header([(1446.5,"Создано при помощи",BLK,"bold"),(1610,"TradingView",BLUE,"normal")],720.7)
logo(140,664)
logo(1580,714)

fig.savefig("out.png",dpi=100,facecolor=BG)
